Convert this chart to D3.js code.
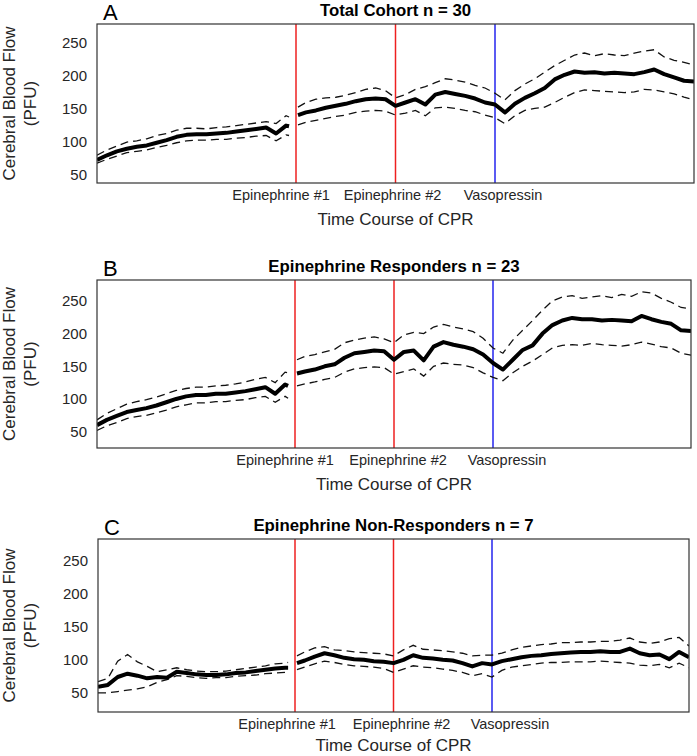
<!DOCTYPE html>
<html><head><meta charset="utf-8">
<script src="https://cdn.jsdelivr.net/npm/d3@7"></script>
<style>
html,body{margin:0;padding:0;background:#fff;}
svg{display:block;font-family:"Liberation Sans",Arial,sans-serif;}
</style></head>
<body>
<script>
// ---------- data ----------
const time = [0,1,2,3,4,5,6,7,8,9,10,11,12,13,14,15,16,17,18,19,19.3,19.7,20.2,
  21,22,23,24,25,26,27,28,29,30,31,32,33,34,35,36,37,38,39,40,
  41,42,43,44,45,46,47,48,49,50,51,52,53,54,55,56,57,58,59,60];

const events = [20, 30, 40];
const eventNames = ["Epinephrine #1", "Epinephrine #2", "Vasopressin"];
const eventKinds = ["epi", "epi", "vaso"];
const yTicks = [50, 100, 150, 200, 250];
const panelLetters = ["A", "B", "C"];
const panelTitles = ["Total Cohort n = 30", "Epinephrine Responders n = 23", "Epinephrine Non-Responders n = 7"];

const meanA = [73,80,86,90,93,95,99,103,108,111,112,112,113,114,116,118,120,122,113,125,124,null,141,
  145,148,152,155,158,162,165,166,165,155,160,165,157,172,176,173,170,166,160,157,
  145,158,167,174,182,195,202,207,205,206,204,205,204,203,206,210,203,198,193,192];
const upperA = [80,88,94,100,102,105,110,113,118,121,121,120,122,123,125,127,129,131,128,140,138,null,153,
  160,165,167,168,171,175,180,182,178,167,172,180,184,190,196,194,191,186,182,174,
  164,178,188,196,206,216,224,232,235,231,234,232,231,235,238,240,229,224,221,217];
const lowerA = [68,74,79,84,86,88,92,95,99,102,103,103,104,104,106,107,109,110,102,111,110,null,126,
  130,133,136,139,141,145,147,148,147,141,144,148,140,152,153,151,148,146,141,137,
  128,140,148,151,153,160,168,175,179,178,177,176,175,176,180,179,176,173,168,164];

const meanB = [60,68,74,80,83,86,90,95,100,104,106,106,108,108,110,112,115,118,108,122,120,null,139,
  142,145,150,153,163,170,172,174,173,160,172,174,159,180,187,183,180,176,168,155,
  145,160,175,182,200,213,220,224,222,222,220,221,220,219,227,222,218,215,205,204];
const upperB = [68,78,85,92,96,99,103,108,113,116,118,118,120,121,123,126,130,133,125,141,140,null,160,
  165,168,172,176,186,190,193,195,192,186,198,202,200,210,214,210,207,203,193,178,
  170,190,205,220,236,250,256,258,254,256,258,255,260,257,264,262,254,248,240,238];
const lowerB = [52,59,64,70,73,75,79,83,88,91,94,94,96,96,98,99,102,104,95,104,101,null,120,
  123,126,130,133,141,146,148,149,148,138,142,146,135,150,155,153,152,148,140,133,
  128,140,150,158,168,178,182,183,182,185,183,182,181,183,187,184,180,178,170,167];

const meanC = [59,62,74,79,76,72,74,73,82,80,78,77,77,78,80,81,83,85,87,88,88,null,95,
  99,105,110,107,103,101,100,98,97,95,100,107,103,102,100,99,95,90,95,93,
  98,101,104,106,107,109,110,111,112,112,113,112,112,117,110,107,108,101,112,104];
const upperC = [67,72,98,108,97,90,82,85,88,85,83,82,82,83,85,87,89,91,94,95,96,null,106,
  112,118,120,115,114,112,111,110,109,106,115,122,116,115,114,112,110,106,107,107,
  110,115,119,121,123,124,126,126,127,127,128,128,130,133,127,125,127,132,134,121];
const lowerC = [50,50,52,54,56,59,66,70,76,75,73,72,73,73,75,76,77,79,80,81,80,null,85,
  89,94,98,96,93,91,90,89,87,81,86,91,89,88,86,84,81,76,79,74,
  84,89,91,93,95,96,96,97,97,97,98,97,96,95,92,91,93,88,95,88];

const seriesByPanel = [
  {mean: meanA, upper: upperA, lower: lowerA},
  {mean: meanB, upper: upperB, lower: lowerB},
  {mean: meanC, upper: upperC, lower: lowerC}
];

// ---------- layout ----------
const W = 697, H = 756;
const layout = [
  {left: 97, right: 694, top: 24, bottom: 183, y0: 38, y1: 279, labelDx: [-15, -3, 8]},
  {left: 97, right: 691, top: 280, bottom: 448, y0: 25, y1: 282, labelDx: [-10, 4, 14]},
  {left: 98, right: 689, top: 539, bottom: 712, y0: 21, y1: 283, labelDx: [-8, 8, 18]}
];
const textColor = "#262626";
const eventColor = {epi: "#ee2020", vaso: "#2424ee"};

const svg = d3.select("body").append("svg").attr("width", W).attr("height", H);

layout.forEach((L, pi) => {
  const x = d3.scaleLinear().domain([0, 60]).range([L.left, L.right]);
  const y = d3.scaleLinear().domain([L.y0, L.y1]).range([L.bottom, L.top]);
  const g = svg.append("g");
  const clipId = "clip" + pi;
  svg.append("clipPath").attr("id", clipId).append("rect")
    .attr("x", L.left).attr("y", L.top).attr("width", L.right - L.left).attr("height", L.bottom - L.top);

  // y axis (labels only, no tick marks)
  const yAxis = d3.axisLeft(y).tickValues(yTicks).tickSize(0).tickPadding(10);
  const ya = g.append("g").attr("transform", `translate(${L.left},0)`).call(yAxis);
  ya.select(".domain").remove();
  ya.selectAll("text").attr("font-size", 15).attr("fill", textColor)
    .attr("font-family", '"Liberation Sans",Arial,sans-serif');

  // event lines
  g.selectAll("line.ev").data(events).join("line")
    .attr("x1", d => x(d)).attr("x2", d => x(d))
    .attr("y1", L.top).attr("y2", L.bottom)
    .attr("stroke", (d, i) => eventColor[eventKinds[i]])
    .attr("stroke-width", 1.5);

  const s = seriesByPanel[pi];
  const line = key => d3.line()
    .defined((d, i) => s[key][i] != null)
    .x((d, i) => x(time[i]))
    .y((d, i) => y(s[key][i]));

  const plot = g.append("g").attr("clip-path", `url(#${clipId})`);
  ["upper", "lower"].forEach(k => {
    plot.append("path").attr("d", line(k)(time))
      .attr("fill", "none").attr("stroke", "#111")
      .attr("stroke-width", 1.3).attr("stroke-dasharray", "8,5");
  });
  plot.append("path").attr("d", line("mean")(time))
    .attr("fill", "none").attr("stroke", "#000")
    .attr("stroke-width", 4).attr("stroke-linejoin", "round");

  // box
  g.append("rect").attr("x", L.left).attr("y", L.top)
    .attr("width", L.right - L.left).attr("height", L.bottom - L.top)
    .attr("fill", "none").attr("stroke", "#333").attr("stroke-width", 1.2);

  // event labels
  g.selectAll("text.evl").data(events).join("text")
    .attr("x", (d, i) => x(d) + L.labelDx[i])
    .attr("y", L.bottom + 17)
    .attr("text-anchor", "middle").attr("font-size", 14.5).attr("fill", textColor)
    .text((d, i) => eventNames[i]);

  const cx = (L.left + L.right) / 2;
  g.append("text").attr("x", cx).attr("y", Math.min(L.bottom + 42, H - 5))
    .attr("text-anchor", "middle").attr("font-size", 17).attr("fill", textColor)
    .text("Time Course of CPR");

  // title and letter
  g.append("text").attr("x", cx).attr("y", L.top - 8)
    .attr("text-anchor", "middle").attr("font-size", 16.8).attr("font-weight", "bold").attr("fill", "#000")
    .text(panelTitles[pi]);
  g.append("text").attr("x", L.left + 6).attr("y", L.top - 4)
    .attr("font-size", 22).attr("fill", "#000")
    .text(panelLetters[pi]);

  // y label
  const cy = (L.top + L.bottom) / 2;
  g.append("text").attr("transform", `translate(15,${cy}) rotate(-90)`)
    .attr("text-anchor", "middle").attr("font-size", 17).attr("fill", textColor)
    .text("Cerebral Blood Flow");
  g.append("text").attr("transform", `translate(36,${cy}) rotate(-90)`)
    .attr("text-anchor", "middle").attr("font-size", 17).attr("fill", textColor)
    .text("(PFU)");
});
</script>
</body></html>
